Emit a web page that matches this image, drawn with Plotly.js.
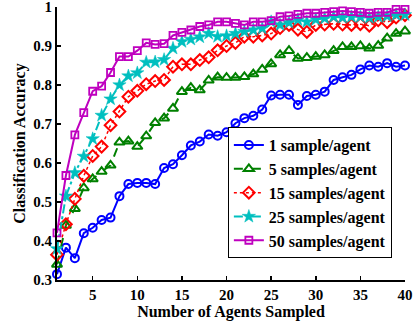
<!DOCTYPE html>
<html>
<head>
<meta charset="utf-8">
<script src="https://cdn.plot.ly/plotly-3.0.1.min.js"></script>
<style>html,body{margin:0;padding:0;background:#fff;}#chart{width:417px;height:325px;}</style>
</head>
<body>
<div id="chart"></div>
<script>
const agents = [];
for (let i = 1; i <= 40; i++) agents.push(i);

const seriesNames = ["1 sample/agent", "5 samples/agent", "15 samples/agent", "25 samples/agent", "50 samples/agent"];

const acc1 = [0.315,0.383,0.356,0.420,0.434,0.454,0.460,0.515,0.546,0.549,
              0.549,0.546,0.587,0.597,0.620,0.645,0.655,0.673,0.670,0.679,
              0.702,0.715,0.721,0.737,0.773,0.775,0.775,0.749,0.772,0.775,
              0.783,0.813,0.820,0.826,0.840,0.850,0.847,0.856,0.847,0.850];

const acc5 = [0.340,0.440,0.483,0.536,0.559,0.578,0.594,0.653,0.656,0.642,
              0.669,0.703,0.715,0.740,0.783,0.793,0.787,0.812,0.820,0.819,
              0.819,0.821,0.828,0.840,0.854,0.877,0.888,0.868,0.870,0.873,
              0.877,0.888,0.898,0.898,0.900,0.894,0.901,0.920,0.932,0.938];

const acc15 = [0.365,0.443,0.508,0.567,0.618,0.642,0.697,0.732,0.770,0.785,
               0.802,0.810,0.813,0.847,0.853,0.853,0.864,0.871,0.889,0.900,
               0.908,0.924,0.924,0.927,0.932,0.946,0.954,0.942,0.936,0.954,
               0.955,0.957,0.955,0.954,0.956,0.952,0.966,0.961,0.973,0.979];

const acc25 = [0.380,0.515,0.575,0.617,0.662,0.722,0.764,0.800,0.823,0.831,
               0.858,0.859,0.865,0.894,0.911,0.917,0.923,0.932,0.924,0.926,
               0.932,0.937,0.941,0.945,0.962,0.954,0.960,0.967,0.962,0.968,
               0.971,0.975,0.973,0.975,0.975,0.972,0.975,0.977,0.980,0.980];

const acc50 = [0.421,0.568,0.672,0.729,0.784,0.797,0.832,0.873,0.873,0.888,
               0.908,0.904,0.906,0.927,0.935,0.941,0.950,0.954,0.962,0.962,
               0.958,0.954,0.962,0.962,0.965,0.975,0.977,0.981,0.984,0.984,
               0.986,0.988,0.990,0.988,0.986,0.984,0.986,0.986,0.994,0.994];

const yTicks = [0.3,0.4,0.5,0.6,0.7,0.8,0.9,1];
const yTickText = ["0.3","0.4","0.5","0.6","0.7","0.8","0.9","1"];
const xTicks = [5,10,15,20,25,30,35,40];
const xTickText = ["5","10","15","20","25","30","35","40"];

const FONT = "Liberation Serif, Times New Roman, serif";
const b = s => "<b>" + s + "</b>";

const styles = [
  {color:"#0000FF", dash:"solid",   symbol:"circle-open",      size:8,  lw:2,   mlw:2},
  {color:"#008000", dash:"dash",    symbol:"triangle-up-open", size:9,  lw:2,   mlw:2},
  {color:"#FF0000", dash:"dot",     symbol:"diamond-open",     size:9,  lw:1.5, mlw:2},
  {color:"#00BFBF", dash:"dashdot", symbol:"star",             size:10, lw:2,   mlw:0.5},
  {color:"#BF00BF", dash:"solid",   symbol:"square-open",      size:7,  lw:2,   mlw:1.8}
];
const data = [acc1, acc5, acc15, acc25, acc50];

const traces = data.map((ys, i) => ({
  x: agents, y: ys, name: b(seriesNames[i]), type: "scatter", mode: "lines+markers",
  cliponaxis: false,
  line: {color: styles[i].color, width: styles[i].lw, dash: styles[i].dash},
  marker: {symbol: styles[i].symbol, size: styles[i].size, color: styles[i].color,
           line: {color: styles[i].color, width: styles[i].mlw}}
}));

const layout = {
  width: 417, height: 325,
  margin: {l: 57, r: 12, t: 7, b: 45},
  paper_bgcolor: "#fff", plot_bgcolor: "#fff",
  font: {family: FONT, size: 15, color: "#000"},
  showlegend: true,
  legend: {
    x: 0.491, y: 0.08, xanchor: "left", yanchor: "bottom",
    bgcolor: "#fff", bordercolor: "#000", borderwidth: 1,
    font: {family: FONT, size: 16, color: "#000"},
    tracegroupgap: 0
  },
  xaxis: {
    range: [1, 40], tickvals: xTicks, ticktext: xTickText.map(b),
    showline: true, linecolor: "#000", linewidth: 2, mirror: false,
    ticks: "inside", ticklen: 4, tickwidth: 1.5, tickcolor: "#000",
    showgrid: false, zeroline: false, ticklabeloverflow: "allow",
    tickfont: {family: FONT, size: 15, color: "#000"},
    title: {text: b("Number of Agents Sampled"), standoff: 2,
            font: {family: FONT, size: 16, color: "#000"}}
  },
  yaxis: {
    range: [0.3, 1], tickvals: yTicks, ticktext: yTickText.map(b),
    showline: true, linecolor: "#000", linewidth: 2, mirror: false,
    ticks: "inside", ticklen: 4, tickwidth: 1.5, tickcolor: "#000",
    showgrid: false, zeroline: false, ticklabeloverflow: "allow",
    tickfont: {family: FONT, size: 15, color: "#000"},
    title: {text: b("Classification Accuracy"), standoff: 4,
            font: {family: FONT, size: 16, color: "#000"}}
  }
};

Plotly.newPlot("chart", traces, layout, {displayModeBar: false, staticPlot: true});
</script>
</body>
</html>
